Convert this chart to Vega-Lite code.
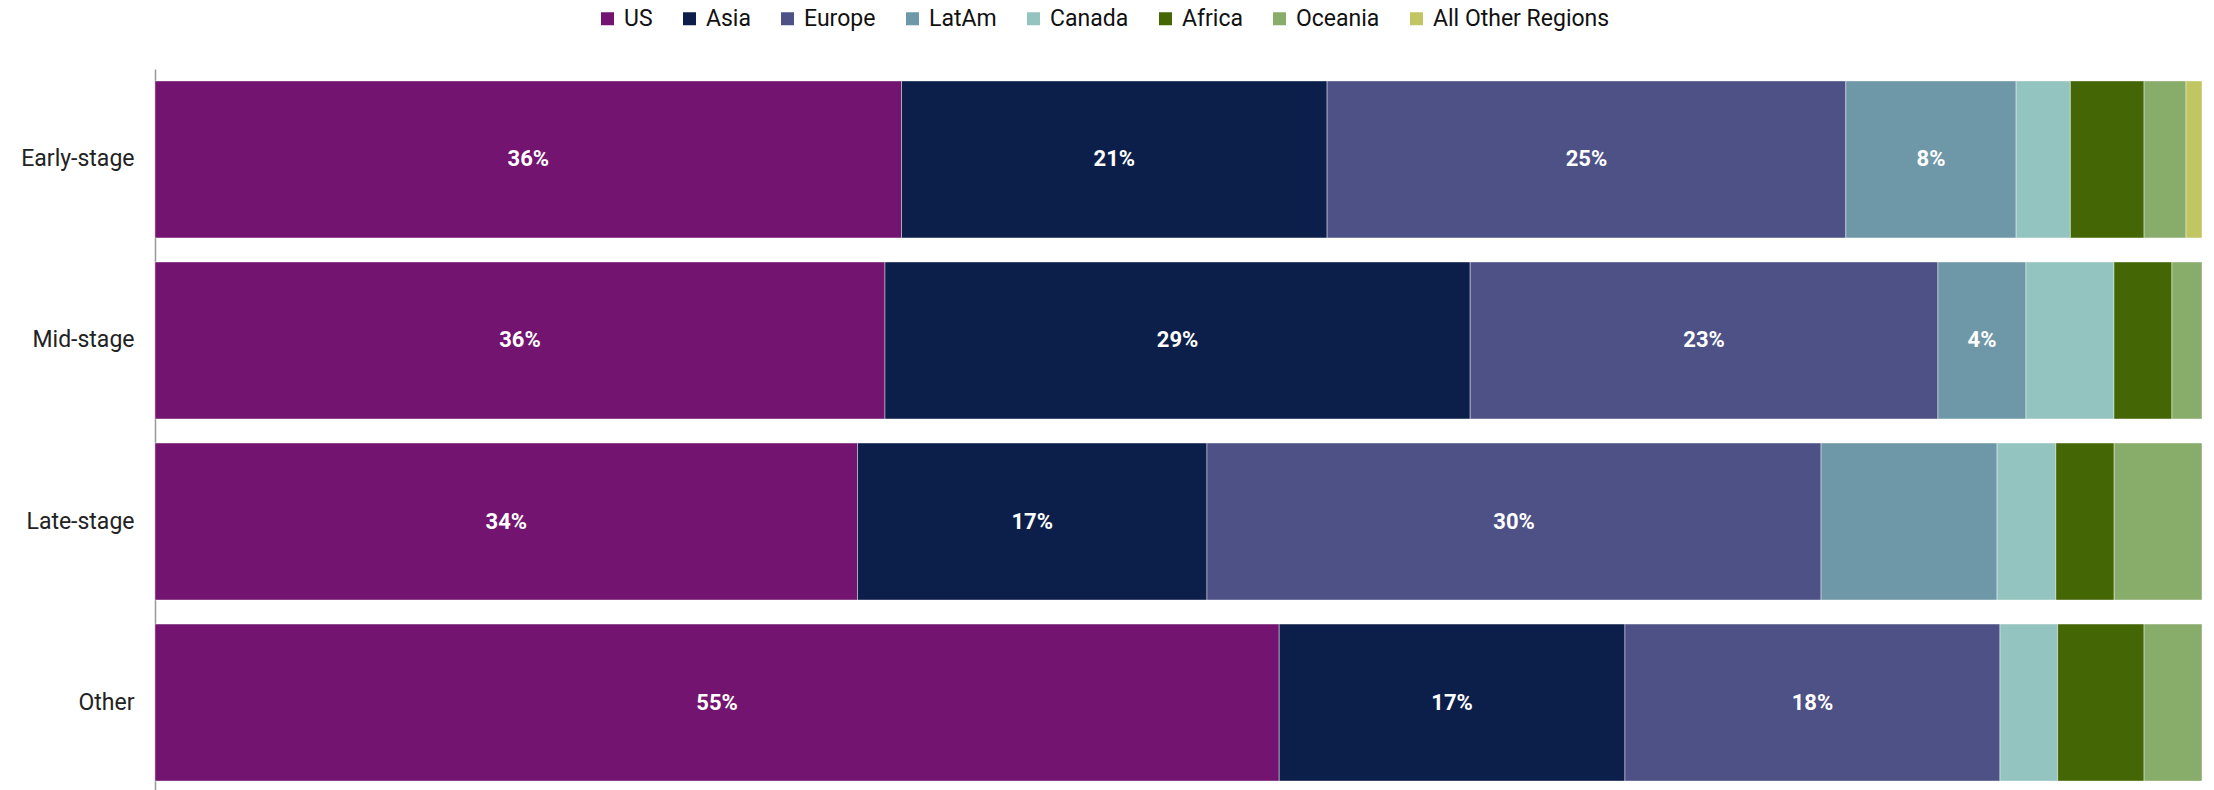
{
  "$schema": "https://vega.github.io/schema/vega-lite/v6.json",
  "width": 2047,
  "height": 724,
  "autosize": "none",
  "padding": {"left": 155, "top": 69, "right": 12, "bottom": 0},
  "background": "white",
  "config": {"view": {"stroke": null}, "font": "Roboto"},
  "data": {
    "values": [
      {"stage": "Early-stage", "region": "US", "ord": 1, "value": 36.47, "label": "36%"},
      {"stage": "Early-stage", "region": "Asia", "ord": 2, "value": 20.79, "label": "21%"},
      {"stage": "Early-stage", "region": "Europe", "ord": 3, "value": 25.34, "label": "25%"},
      {"stage": "Early-stage", "region": "LatAm", "ord": 4, "value": 8.32, "label": "8%"},
      {"stage": "Early-stage", "region": "Canada", "ord": 5, "value": 2.65, "label": ""},
      {"stage": "Early-stage", "region": "Africa", "ord": 6, "value": 3.60, "label": ""},
      {"stage": "Early-stage", "region": "Oceania", "ord": 7, "value": 2.05, "label": ""},
      {"stage": "Early-stage", "region": "All Other Regions", "ord": 8, "value": 0.78, "label": ""},
      {"stage": "Mid-stage", "region": "US", "ord": 1, "value": 35.66, "label": "36%"},
      {"stage": "Mid-stage", "region": "Asia", "ord": 2, "value": 28.59, "label": "29%"},
      {"stage": "Mid-stage", "region": "Europe", "ord": 3, "value": 22.85, "label": "23%"},
      {"stage": "Mid-stage", "region": "LatAm", "ord": 4, "value": 4.30, "label": "4%"},
      {"stage": "Mid-stage", "region": "Canada", "ord": 5, "value": 4.30, "label": ""},
      {"stage": "Mid-stage", "region": "Africa", "ord": 6, "value": 2.83, "label": ""},
      {"stage": "Mid-stage", "region": "Oceania", "ord": 7, "value": 1.47, "label": ""},
      {"stage": "Late-stage", "region": "US", "ord": 1, "value": 34.32, "label": "34%"},
      {"stage": "Late-stage", "region": "Asia", "ord": 2, "value": 17.07, "label": "17%"},
      {"stage": "Late-stage", "region": "Europe", "ord": 3, "value": 30.0, "label": "30%"},
      {"stage": "Late-stage", "region": "LatAm", "ord": 4, "value": 8.6, "label": ""},
      {"stage": "Late-stage", "region": "Canada", "ord": 5, "value": 2.87, "label": ""},
      {"stage": "Late-stage", "region": "Africa", "ord": 6, "value": 2.85, "label": ""},
      {"stage": "Late-stage", "region": "Oceania", "ord": 7, "value": 4.29, "label": ""},
      {"stage": "Other", "region": "US", "ord": 1, "value": 54.92, "label": "55%"},
      {"stage": "Other", "region": "Asia", "ord": 2, "value": 16.89, "label": "17%"},
      {"stage": "Other", "region": "Europe", "ord": 3, "value": 18.32, "label": "18%"},
      {"stage": "Other", "region": "Canada", "ord": 5, "value": 2.82, "label": ""},
      {"stage": "Other", "region": "Africa", "ord": 6, "value": 4.22, "label": ""},
      {"stage": "Other", "region": "Oceania", "ord": 7, "value": 2.83, "label": ""}
    ]
  },
  "transform": [
    {"stack": "value", "groupby": ["stage"], "sort": [{"field": "ord", "order": "ascending"}], "as": ["x0", "x1"]},
    {"calculate": "(datum.x0 + datum.x1) / 2", "as": "xm"}
  ],
  "encoding": {
    "y": {
      "field": "stage",
      "type": "nominal",
      "sort": ["Early-stage", "Mid-stage", "Late-stage", "Other"],
      "scale": {"paddingInner": 0.133, "paddingOuter": 0.066},
      "axis": {
        "title": null,
        "labelFontSize": 23,
        "labelFont": "Roboto",
        "labelColor": "#222222",
        "ticks": false,
        "labelPadding": 21,
        "domainColor": "#999999",
        "domainWidth": 1.5
      }
    }
  },
  "layer": [
    {
      "mark": {"type": "bar", "stroke": "white", "strokeWidth": 0.6, "strokeOpacity": 0.7},
      "encoding": {
        "x": {"field": "x0", "type": "quantitative", "scale": {"domain": [0, 100], "nice": false, "zero": true}, "axis": null},
        "x2": {"field": "x1"},
        "color": {
          "field": "region",
          "type": "nominal",
          "scale": {
            "domain": ["US", "Asia", "Europe", "LatAm", "Canada", "Africa", "Oceania", "All Other Regions"],
            "range": ["#721470", "#0C1F4A", "#4D5186", "#6E98A8", "#94C4BF", "#446605", "#88AC6A", "#C1C562"]
          },
          "legend": {
            "title": null,
            "orient": "none",
            "legendX": 441,
            "legendY": -62,
            "direction": "horizontal",
            "columns": 8,
            "symbolType": "square",
            "symbolSize": 169,
            "symbolStrokeWidth": 0,
            "symbolOpacity": 1,
            "labelFontSize": 23,
            "labelFont": "Roboto",
            "labelColor": "#111111",
            "labelLimit": 400,
            "columnPadding": 25,
            "labelOffset": 5
          }
        }
      }
    },
    {
      "mark": {"type": "text", "color": "white", "fontWeight": "bold", "fontSize": 22, "font": "Roboto"},
      "encoding": {
        "x": {"field": "xm", "type": "quantitative"},
        "text": {"field": "label"}
      }
    }
  ]
}
